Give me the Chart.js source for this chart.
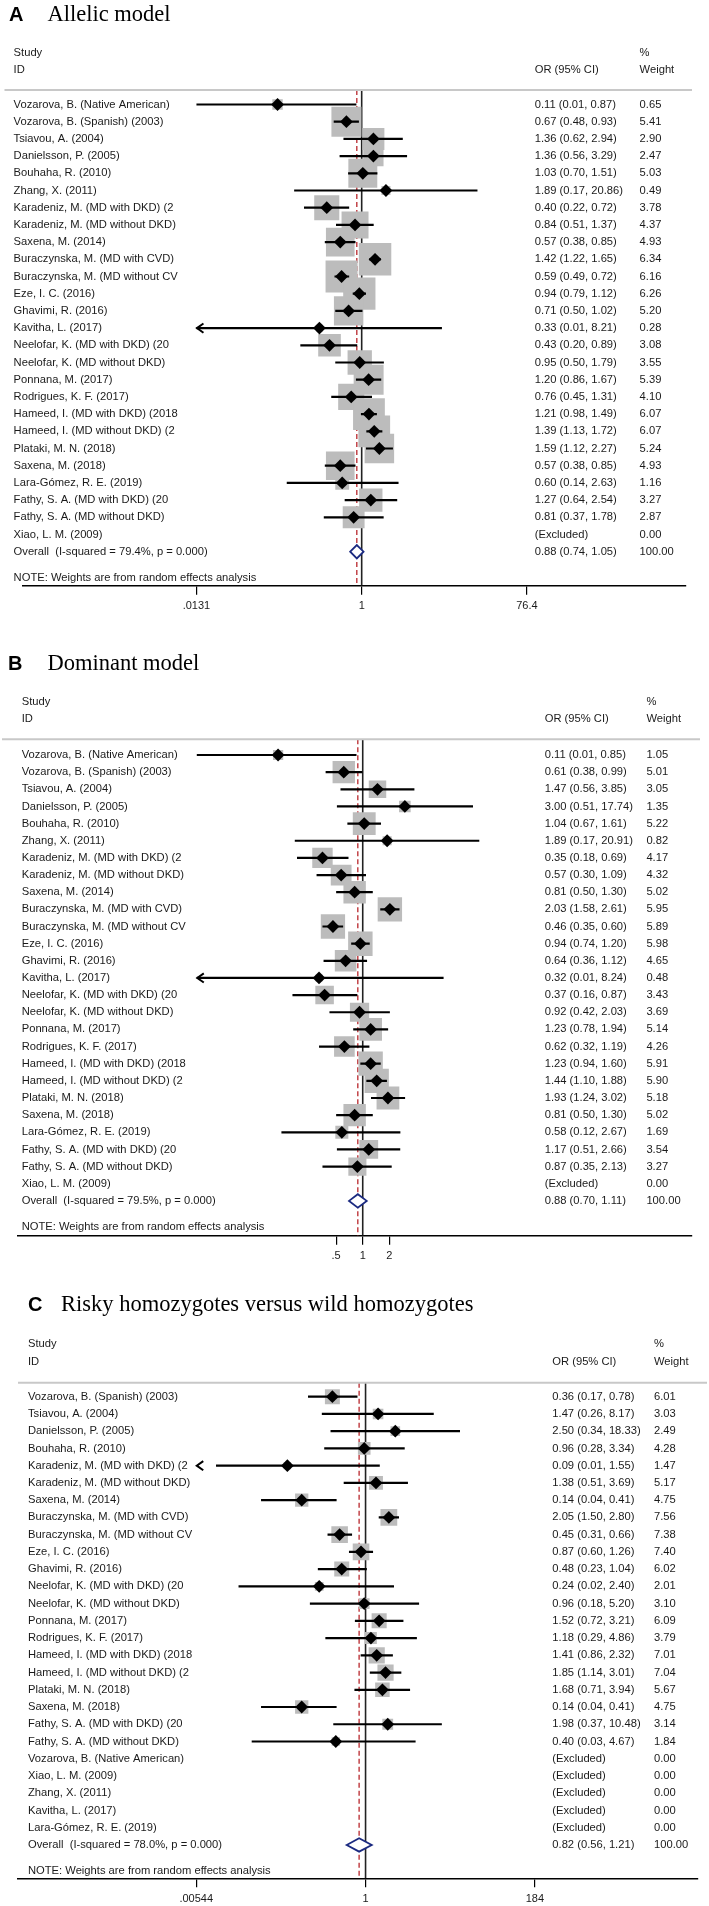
<!DOCTYPE html>
<html>
<head>
<meta charset="utf-8">
<title>Forest plots</title>
<script src="https://cdn.jsdelivr.net/npm/chart.js@4.4.1/dist/chart.umd.min.js"></script>
<style>
  body { margin: 0; background: #fff; }
  canvas { position: absolute; left: 0; }
</style>
</head>
<body>
<canvas id="chartA" width="709" height="640" style="top:0"></canvas>
<canvas id="chartB" width="709" height="640" style="top:640px"></canvas>
<canvas id="chartC" width="709" height="626" style="top:1280px"></canvas>
<script>
// ---- A: allelic model ----
const studiesA = [
  'Vozarova, B. (Native American)', 'Vozarova, B. (Spanish) (2003)', 'Tsiavou, A. (2004)',
  'Danielsson, P. (2005)', 'Bouhaha, R. (2010)', 'Zhang, X. (2011)',
  'Karadeniz, M. (MD with DKD) (2', 'Karadeniz, M. (MD without DKD)', 'Saxena, M. (2014)',
  'Buraczynska, M. (MD with CVD)', 'Buraczynska, M. (MD without CV', 'Eze, I. C. (2016)',
  'Ghavimi, R. (2016)', 'Kavitha, L. (2017)', 'Neelofar, K. (MD with DKD) (20',
  'Neelofar, K. (MD without DKD)', 'Ponnana, M. (2017)', 'Rodrigues, K. F. (2017)',
  'Hameed, I. (MD with DKD) (2018', 'Hameed, I. (MD without DKD) (2', 'Plataki, M. N. (2018)',
  'Saxena, M. (2018)', 'Lara-Gómez, R. E. (2019)', 'Fathy, S. A. (MD with DKD) (20',
  'Fathy, S. A. (MD without DKD)', 'Xiao, L. M. (2009)'
];
const orA     = [0.11, 0.67, 1.36, 1.36, 1.03, 1.89, 0.40, 0.84, 0.57, 1.42, 0.59, 0.94, 0.71, 0.33, 0.43, 0.95, 1.20, 0.76, 1.21, 1.39, 1.59, 0.57, 0.60, 1.27, 0.81, null];
const loA     = [0.01, 0.48, 0.62, 0.56, 0.70, 0.17, 0.22, 0.51, 0.38, 1.22, 0.49, 0.79, 0.50, 0.01, 0.20, 0.50, 0.86, 0.45, 0.98, 1.13, 1.12, 0.38, 0.14, 0.64, 0.37, null];
const hiA     = [0.87, 0.93, 2.94, 3.29, 1.51, 20.86, 0.72, 1.37, 0.85, 1.65, 0.72, 1.12, 1.02, 8.21, 0.89, 1.79, 1.67, 1.31, 1.49, 1.72, 2.27, 0.85, 2.63, 2.54, 1.78, null];
const weightA = [0.65, 5.41, 2.90, 2.47, 5.03, 0.49, 3.78, 4.37, 4.93, 6.34, 6.16, 6.26, 5.20, 0.28, 3.08, 3.55, 5.39, 4.10, 6.07, 6.07, 5.24, 4.93, 1.16, 3.27, 2.87, 0.00];
const overallA = [0.88, 0.74, 1.05];
const overallLabelA = 'Overall  (I-squared = 79.4%, p = 0.000)';
const truncatedA = ['Kavitha, L. (2017)'];
const rangeA = [0.0131, 76.4];
const ticksA = [0.0131, 1, 76.4];
const tickLabelsA = ['.0131', '1', '76.4'];

// ---- B: dominant model ----
const studiesB = studiesA.slice();
const orB     = [0.11, 0.61, 1.47, 3.00, 1.04, 1.89, 0.35, 0.57, 0.81, 2.03, 0.46, 0.94, 0.64, 0.32, 0.37, 0.92, 1.23, 0.62, 1.23, 1.44, 1.93, 0.81, 0.58, 1.17, 0.87, null];
const loB     = [0.01, 0.38, 0.56, 0.51, 0.67, 0.17, 0.18, 0.30, 0.50, 1.58, 0.35, 0.74, 0.36, 0.01, 0.16, 0.42, 0.78, 0.32, 0.94, 1.10, 1.24, 0.50, 0.12, 0.51, 0.35, null];
const hiB     = [0.85, 0.99, 3.85, 17.74, 1.61, 20.91, 0.69, 1.09, 1.30, 2.61, 0.60, 1.20, 1.12, 8.24, 0.87, 2.03, 1.94, 1.19, 1.60, 1.88, 3.02, 1.30, 2.67, 2.66, 2.13, null];
const weightB = [1.05, 5.01, 3.05, 1.35, 5.22, 0.82, 4.17, 4.32, 5.02, 5.95, 5.89, 5.98, 4.65, 0.48, 3.43, 3.69, 5.14, 4.26, 5.91, 5.90, 5.18, 5.02, 1.69, 3.54, 3.27, 0.00];
const overallB = [0.88, 0.70, 1.11];
const overallLabelB = 'Overall  (I-squared = 79.5%, p = 0.000)';
const truncatedB = ['Kavitha, L. (2017)'];
const rangeB = [0.0132, 75.6];
const ticksB = [0.5, 1, 2];
const tickLabelsB = ['.5', '1', '2'];

// ---- C: risky homozygotes versus wild homozygotes ----
const studiesC = [
  'Vozarova, B. (Spanish) (2003)', 'Tsiavou, A. (2004)', 'Danielsson, P. (2005)', 'Bouhaha, R. (2010)',
  'Karadeniz, M. (MD with DKD) (2', 'Karadeniz, M. (MD without DKD)', 'Saxena, M. (2014)',
  'Buraczynska, M. (MD with CVD)', 'Buraczynska, M. (MD without CV', 'Eze, I. C. (2016)',
  'Ghavimi, R. (2016)', 'Neelofar, K. (MD with DKD) (20', 'Neelofar, K. (MD without DKD)',
  'Ponnana, M. (2017)', 'Rodrigues, K. F. (2017)', 'Hameed, I. (MD with DKD) (2018',
  'Hameed, I. (MD without DKD) (2', 'Plataki, M. N. (2018)', 'Saxena, M. (2018)',
  'Fathy, S. A. (MD with DKD) (20', 'Fathy, S. A. (MD without DKD)', 'Vozarova, B. (Native American)',
  'Xiao, L. M. (2009)', 'Zhang, X. (2011)', 'Kavitha, L. (2017)', 'Lara-Gómez, R. E. (2019)'
];
const orC     = [0.36, 1.47, 2.50, 0.96, 0.09, 1.38, 0.14, 2.05, 0.45, 0.87, 0.48, 0.24, 0.96, 1.52, 1.18, 1.41, 1.85, 1.68, 0.14, 1.98, 0.40, null, null, null, null, null];
const loC     = [0.17, 0.26, 0.34, 0.28, 0.01, 0.51, 0.04, 1.50, 0.31, 0.60, 0.23, 0.02, 0.18, 0.72, 0.29, 0.86, 1.14, 0.71, 0.04, 0.37, 0.03, null, null, null, null, null];
const hiC     = [0.78, 8.17, 18.33, 3.34, 1.55, 3.69, 0.41, 2.80, 0.66, 1.26, 1.04, 2.40, 5.20, 3.21, 4.86, 2.32, 3.01, 3.94, 0.41, 10.48, 4.67, null, null, null, null, null];
const weightC = [6.01, 3.03, 2.49, 4.28, 1.47, 5.17, 4.75, 7.56, 7.38, 7.40, 6.02, 2.01, 3.10, 6.09, 3.79, 7.01, 7.04, 5.67, 4.75, 3.14, 1.84, 0.00, 0.00, 0.00, 0.00, 0.00];
const overallC = [0.82, 0.56, 1.21];
const overallLabelC = 'Overall  (I-squared = 78.0%, p = 0.000)';
const truncatedC = ['Karadeniz, M. (MD with DKD) (2'];
const rangeC = [0.00544, 184];
const ticksC = [0.00544, 1, 184];
const tickLabelsC = ['.00544', '1', '184'];

const NOTE = 'NOTE: Weights are from random effects analysis';
const TXT = '#1a1a1a';
const FONT = '11.2px "Liberation Sans", Arial, sans-serif';

Chart.defaults.font.family = '"Liberation Sans", Arial, sans-serif';

function forestPanel(id, d, g) {
  const n = d.studies.length;
  const squares = [], radii = [], diamonds = [], ci = [];
  d.or.forEach((v, i) => {
    if (v == null) return;
    squares.push({ x: v, y: i });
    radii.push(g.sq * Math.sqrt(d.weight[i]) / Math.SQRT2);
    diamonds.push({ x: v, y: i });
    ci.push({ x: Math.max(d.lo[i], d.range[0]), y: i },
            { x: Math.min(d.hi[i], d.range[1]), y: i },
            { x: 1, y: null });
  });
  const yMin = (g.grayY - g.row0) / g.step;
  const yMax = (g.axisY - g.row0) / g.step;
  const xMin = Math.pow(10, (g.left - g.onePx) / g.decade);
  const xMax = Math.pow(10, (g.right - g.onePx) / g.decade);

  const textPlugin = {
    id: 'forestText',
    afterDraw(chart) {
      const ctx = chart.ctx;
      const xs = chart.scales.x, ys = chart.scales.y;
      ctx.save();
      // title
      ctx.fillStyle = '#000';
      ctx.textBaseline = 'middle';
      ctx.font = 'bold 20px "Liberation Sans", Arial, sans-serif';
      ctx.fillText(d.letter, g.letterX, g.titleY);
      ctx.font = '22.5px "Liberation Serif", "Times New Roman", serif';
      ctx.fillText(d.title, g.titleX, g.titleY);
      // headers
      ctx.font = FONT;
      ctx.fillStyle = TXT;
      ctx.fillText('Study', g.labelX, g.studyY);
      ctx.fillText('ID', g.labelX, g.idY);
      ctx.fillText('OR (95% CI)', g.orX, g.idY);
      ctx.fillText('%', g.wX, g.studyY);
      ctx.fillText('Weight', g.wX, g.idY);
      ctx.strokeStyle = '#c8c8c8';
      ctx.lineWidth = 2;
      ctx.beginPath();
      ctx.moveTo(g.grayL, g.grayY);
      ctx.lineTo(g.grayR, g.grayY);
      ctx.stroke();
      // rows
      d.studies.forEach((s, i) => {
        const y = ys.getPixelForValue(i);
        ctx.fillText(s, g.labelX, y);
        const v = d.or[i];
        ctx.fillText(v == null ? '(Excluded)' :
          v.toFixed(2) + ' (' + d.lo[i].toFixed(2) + ', ' + d.hi[i].toFixed(2) + ')', g.orX, y);
        ctx.fillText(d.weight[i].toFixed(2), g.wX, y);
      });
      const yo = ys.getPixelForValue(n);
      ctx.fillText(d.overallLabel, g.labelX, yo);
      ctx.fillText(d.overall[0].toFixed(2) + ' (' + d.overall[1].toFixed(2) + ', ' + d.overall[2].toFixed(2) + ')', g.orX, yo);
      ctx.fillText('100.00', g.wX, yo);
      ctx.fillText(NOTE, g.labelX, g.noteY);
      // arrows on truncated intervals
      ctx.strokeStyle = '#000';
      ctx.lineWidth = 2;
      d.truncated.forEach(name => {
        const i = d.studies.indexOf(name);
        const x = xs.getPixelForValue(d.range[0]);
        const y = ys.getPixelForValue(i);
        ctx.beginPath();
        ctx.moveTo(x + 7, y - 4.6);
        ctx.lineTo(x + 0.5, y);
        ctx.lineTo(x + 7, y + 4.6);
        ctx.stroke();
      });
      // pooled estimate diamond
      const xl = xs.getPixelForValue(d.overall[1]);
      const xc = xs.getPixelForValue(d.overall[0]);
      const xr = xs.getPixelForValue(d.overall[2]);
      ctx.beginPath();
      ctx.moveTo(xl, yo);
      ctx.lineTo(xc, yo - 6.7);
      ctx.lineTo(xr, yo);
      ctx.lineTo(xc, yo + 6.7);
      ctx.closePath();
      ctx.fillStyle = '#fff';
      ctx.fill();
      ctx.strokeStyle = '#1b2a80';
      ctx.lineWidth = 1.8;
      ctx.stroke();
      ctx.restore();
    }
  };

  return new Chart(document.getElementById(id), {
    type: 'scatter',
    data: {
      datasets: [
        { data: diamonds, pointStyle: 'rectRot', pointRadius: 6.4, pointBackgroundColor: '#000', pointBorderWidth: 0 },
        { data: ci, showLine: true, spanGaps: false, borderColor: '#000', borderWidth: 2.2, pointRadius: 0, borderCapStyle: 'butt' },
        { data: squares, pointStyle: 'rect', pointRadius: radii, pointBackgroundColor: '#bcbcbc', pointBorderWidth: 0 },
        { data: [{ x: d.overall[0], y: yMin }, { x: d.overall[0], y: yMax }], showLine: true, borderColor: '#b8262b', borderWidth: 1.3, borderDash: [5, 3], pointRadius: 0 },
        { data: [{ x: 1, y: yMin }, { x: 1, y: yMax }], showLine: true, borderColor: '#222', borderWidth: 1.6, pointRadius: 0 }
      ]
    },
    options: {
      responsive: false,
      animation: false,
      events: [],
      layout: { padding: { top: g.grayY, left: g.left, right: 709 - g.right, bottom: g.h - g.axisY - 30 } },
      plugins: { legend: { display: false }, tooltip: { enabled: false } },
      scales: {
        x: {
          type: 'logarithmic',
          min: xMin, max: xMax, bounds: 'data',
          afterBuildTicks: s => { s.ticks = d.ticks.map(v => ({ value: v })); },
          afterFit: s => { s.height = 30; },
          grid: { drawOnChartArea: false, drawTicks: true, tickLength: 9, color: '#000', lineWidth: 1.2 },
          border: { display: true, color: '#000', width: 1.5 },
          ticks: {
            autoSkip: false, maxRotation: 0, padding: g.labelGap - 9 - 6.6,
            color: TXT, font: { size: 11 },
            callback: (v, i) => d.tickLabels[i]
          }
        },
        y: { type: 'linear', display: false, reverse: true, min: yMin, max: yMax, bounds: 'data' }
      }
    },
    plugins: [textPlugin]
  });
}

forestPanel('chartA',
  { letter: 'A', title: 'Allelic model', studies: studiesA, or: orA, lo: loA, hi: hiA, weight: weightA,
    overall: overallA, overallLabel: overallLabelA, truncated: truncatedA, range: rangeA, ticks: ticksA, tickLabels: tickLabelsA },
  { h: 640, titleY: 15, letterX: 9, titleX: 47.5, studyY: 53, idY: 70, grayY: 90, grayL: 4.5, grayR: 692,
    row0: 104.5, step: 17.2, noteY: 577.7, axisY: 585.7, labelGap: 20, left: 4.5, right: 692,
    onePx: 355.7, decade: 91.0, labelX: 13.6, orX: 534.7, wX: 639.6, sq: 12.9 });

forestPanel('chartB',
  { letter: 'B', title: 'Dominant model', studies: studiesB, or: orB, lo: loB, hi: hiB, weight: weightB,
    overall: overallB, overallLabel: overallLabelB, truncated: truncatedB, range: rangeB, ticks: ticksB, tickLabels: tickLabelsB },
  { h: 640, titleY: 24, letterX: 8, titleX: 47.5, studyY: 61.7, idY: 79.3, grayY: 99.3, grayL: 2, grayR: 700,
    row0: 115, step: 17.15, noteY: 587.3, axisY: 595.7, labelGap: 20, left: 11, right: 700,
    onePx: 363.9, decade: 90.2, labelX: 21.7, orX: 544.7, wX: 646.4, sq: 10 });

forestPanel('chartC',
  { letter: 'C', title: 'Risky homozygotes versus wild homozygotes', studies: studiesC, or: orC, lo: loC, hi: hiC, weight: weightC,
    overall: overallC, overallLabel: overallLabelC, truncated: truncatedC, range: rangeC, ticks: ticksC, tickLabels: tickLabelsC },
  { h: 626, titleY: 25, letterX: 28, titleX: 61, studyY: 64.3, idY: 81.7, grayY: 102.7, grayL: 18, grayR: 707,
    row0: 116.7, step: 17.24, noteY: 591, axisY: 598.3, labelGap: 21, left: 18, right: 707,
    onePx: 370.6, decade: 75.85, labelX: 28, orX: 552.3, wX: 654, sq: 6.1 });
</script>
</body>
</html>
